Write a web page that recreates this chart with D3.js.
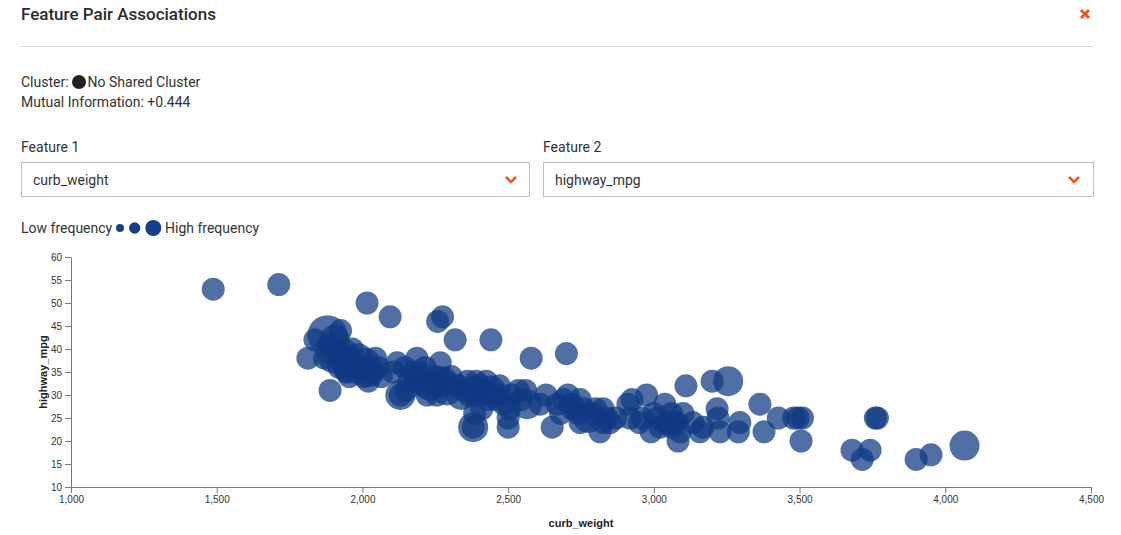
<!DOCTYPE html>
<html lang="en">
<head>
<meta charset="UTF-8">
<title>Feature Pair Associations</title>
<script src="https://d3js.org/d3.v7.min.js"></script>
<style>
  body { margin: 0; width: 1121px; height: 535px; background: #fff; font-family: Roboto, "Noto Sans", sans-serif; color: #333; position: relative; overflow: hidden; }
  .abs { position: absolute; }
  #title { left: 21px; top: 4px; font-size: 17px; font-weight: 500; color: #2b2b2b; }
  #rule { left: 21px; top: 46px; width: 1072px; height: 1px; background: #dcdcdc; }
  .info { left: 21px; font-size: 14px; color: #333; }
  .dot { display: inline-block; width: 14px; height: 14px; border-radius: 50%; background: #222; vertical-align: -2px; margin: 0 2px 0 3px; }
  .label { font-size: 14px; color: #333; top: 139px; }
  .select { top: 162px; height: 35px; border: 1px solid #b9bec4; box-sizing: border-box; font-size: 14px; color: #333; }
  .select span { position: absolute; left: 11px; top: 9px; }
  .legend { left: 21px; top: 220px; font-size: 14px; color: #333; }
  svg { position: absolute; left: 0; top: 0; }
</style>
</head>
<body>
<div id="title" class="abs">Feature Pair Associations</div>
<div id="rule" class="abs"></div>
<div class="abs info" style="top:74px">Cluster:<span class="dot"></span>No Shared Cluster</div>
<div class="abs info" style="top:94px">Mutual Information: +0.444</div>
<div class="abs label" style="left:21px">Feature 1</div>
<div class="abs label" style="left:543px">Feature 2</div>
<div class="abs select" style="left:21px;width:509px"><span>curb_weight</span></div>
<div class="abs select" style="left:543px;width:551px"><span>highway_mpg</span></div>
<div class="abs legend">Low frequency</div>
<div class="abs legend" style="left:165px">High frequency</div>
<svg id="chart" width="1121" height="535"></svg>

<script>
// curb_weight, highway_mpg and how often each pair occurs
var curbWeight = [
  1488, 1713, 2016, 2095, 2258, 2275, 1813, 1837, 1889, 1880, 1905, 1925, 1890, 1900, 1935, 1950, 1955, 1985, 2010, 2024, 2005, 2045, 2055, 1870, 1920, 1965, 2020, 2065, 1976,
  1890, 1910, 1930, 1945, 1970, 1995, 2035, 1915, 1960, 2000,
  2119, 2187, 2145, 2130, 2160, 2175, 2200, 2222, 2230, 2250, 2267, 2275, 2290, 2105, 2150, 2255,
  2180, 2210, 2240, 2265, 2190, 2215, 2285, 2130,
  2318, 2441, 2305, 2320, 2340, 2360, 2380, 2400, 2410, 2425, 2440, 2460, 2470, 2485, 2380, 2385, 2500, 2505, 2510, 2535, 2565, 2560, 2579, 2545, 2500, 2410,
  2330, 2350, 2390, 2420, 2450, 2390, 2365, 2430, 2470, 2380,
  2700, 2651, 2668, 2705, 2690, 2720, 2747, 2760, 2747, 2775, 2800, 2815, 2826, 2840, 2826, 2870, 2610, 2630, 2680,
  2720, 2740, 2790, 2850,
  2911, 2925, 2918, 2975, 2950, 3000, 3011, 3021, 3038, 3050, 3070, 3083, 3090, 3110, 3134, 3100, 3158, 3169, 2990, 3060,
  3040, 3060, 3080, 2960,
  3200, 3255, 3217, 3220, 3227, 3290, 3295, 3364, 3378, 3427, 3480, 3495, 3510, 3505,
  3680, 3742, 3715, 3760, 3767, 3900, 3951, 4066
];
var highwayMpg = [
  53, 54, 50, 47, 46, 47, 38, 42, 31, 43, 42, 44, 40, 38, 39, 36, 34, 38, 37, 35, 34, 38, 36, 38, 36, 40, 33, 34, 35,
  41, 40, 37, 35, 37, 36, 35, 39, 38, 36,
  37, 38, 36, 30, 33, 35, 34, 30, 32, 34, 37, 33, 31, 35, 31, 30,
  33, 32, 33, 32, 35, 36, 33, 30,
  42, 42, 34, 32, 30, 33, 31, 32, 30, 33, 31, 29, 32, 28, 23, 26, 23, 27, 30, 31, 28, 31, 38, 29, 25, 27,
  32, 31, 30, 31, 30, 33, 30, 29, 30, 23,
  39, 23, 28, 30, 29, 28, 29, 27, 24, 25, 27, 22, 24, 25, 27, 25, 28, 30, 26,
  27, 26, 26, 24,
  28, 29, 25, 30, 24, 26, 25, 23, 28, 24, 24, 20, 22, 32, 24, 26, 22, 23, 22, 26,
  24, 23, 24, 25,
  33, 33, 27, 25, 22, 22, 24, 28, 22, 25, 25, 25, 25, 20,
  18, 18, 16, 25, 25, 16, 17, 19
];
var frequency = [
  1, 1, 1, 1, 1, 1, 1, 1, 1, 4, 2, 1, 2, 2, 2, 2, 1, 2, 2, 2, 1, 1, 1, 1, 1, 1, 1, 1, 1,
  1, 1, 1, 1, 1, 1, 1, 1, 1, 1,
  1, 1, 1, 2, 1, 1, 2, 1, 2, 1, 1, 2, 2, 1, 1, 1,
  1, 1, 1, 1, 1, 1, 1, 1,
  1, 1, 1, 1, 2, 1, 2, 1, 1, 1, 2, 1, 1, 1, 2, 1, 1, 1, 1, 1, 2, 1, 1, 1, 1, 1,
  1, 1, 1, 1, 1, 1, 1, 1, 1, 1,
  1, 1, 1, 1, 1, 1, 1, 1, 1, 2, 1, 1, 1, 1, 1, 1, 1, 1, 1,
  1, 1, 1, 1,
  1, 1, 1, 1, 1, 1, 1, 1, 1, 1, 1, 1, 1, 1, 1, 1, 1, 1, 1, 1,
  1, 1, 1, 1,
  1, 2, 1, 1, 1, 1, 1, 1, 1, 1, 1, 1, 1, 1,
  1, 1, 1, 1, 1, 1, 1, 2
];
var xTicks = [1000, 1500, 2000, 2500, 3000, 3500, 4000, 4500];
var yTicks = [10, 15, 20, 25, 30, 35, 40, 45, 50, 55, 60];
var legendSizes = [1, 2, 4];

var svg = d3.select("#chart");
var accent = "#f4511e";
var dotColor = "#0f3a82";

// close button
svg.append("path")
   .attr("d", "M1081,10 L1089,18 M1089,10 L1081,18")
   .attr("stroke", accent)
   .attr("stroke-width", 3);

// select chevrons
[511, 1074].forEach(function(cx) {
  svg.append("path")
     .attr("d", "M" + (cx - 5) + ",177 L" + cx + ",182 L" + (cx + 5) + ",177")
     .attr("fill", "none")
     .attr("stroke", accent)
     .attr("stroke-width", 2.5);
});

// legend circles
var legendR = d3.scaleSqrt().domain([1, 4]).range([4, 8]);
var lx = 120;
legendSizes.forEach(function(s, i) {
  var rr = legendR(s);
  if (i > 0) lx += legendR(legendSizes[i - 1]) + rr + 5;
  svg.append("circle")
     .attr("cx", lx)
     .attr("cy", 228)
     .attr("r", rr)
     .attr("fill", "#163f8a");
});

// scatter
var x = d3.scaleLinear().domain([1000, 4500]).range([71, 1091]);
var y = d3.scaleLinear().domain([10, 60]).range([487, 257]);
var r = d3.scaleSqrt().domain([1, 4]).range([11.5, 20]);

var points = curbWeight.map(function(d, i) {
  return { cw: d, mpg: highwayMpg[i], f: frequency[i] };
});
points.sort(function(a, b) { return b.f - a.f; });

svg.append("g")
   .selectAll("circle")
   .data(points)
   .enter()
   .append("circle")
   .attr("cx", function(d) { return x(d.cw); })
   .attr("cy", function(d) { return y(d.mpg); })
   .attr("r", function(d) { return r(d.f); })
   .attr("fill", dotColor)
   .attr("fill-opacity", 0.73);

var xAxis = svg.append("g")
   .attr("transform", "translate(0,487)")
   .call(d3.axisBottom(x).tickValues(xTicks).tickFormat(d3.format(",")).tickSizeOuter(0));
var yAxis = svg.append("g")
   .attr("transform", "translate(71,0)")
   .call(d3.axisLeft(y).tickValues(yTicks).tickSizeOuter(0));

[xAxis, yAxis].forEach(function(a) {
  a.selectAll("path, line").attr("stroke", "#777");
  a.selectAll("text").attr("fill", "#333").attr("font-size", "10px").attr("font-family", "'Liberation Sans', Arial, sans-serif");
});

svg.append("text")
   .attr("x", 581)
   .attr("y", 527)
   .attr("text-anchor", "middle")
   .attr("font-size", "11px")
   .attr("font-weight", "bold")
   .attr("font-family", "'Liberation Sans', Arial, sans-serif")
   .attr("fill", "#222")
   .text("curb_weight");

svg.append("text")
   .attr("transform", "translate(47,372) rotate(-90)")
   .attr("text-anchor", "middle")
   .attr("font-size", "11px")
   .attr("font-weight", "bold")
   .attr("font-family", "'Liberation Sans', Arial, sans-serif")
   .attr("fill", "#222")
   .text("highway_mpg");
</script>
</body>
</html>
